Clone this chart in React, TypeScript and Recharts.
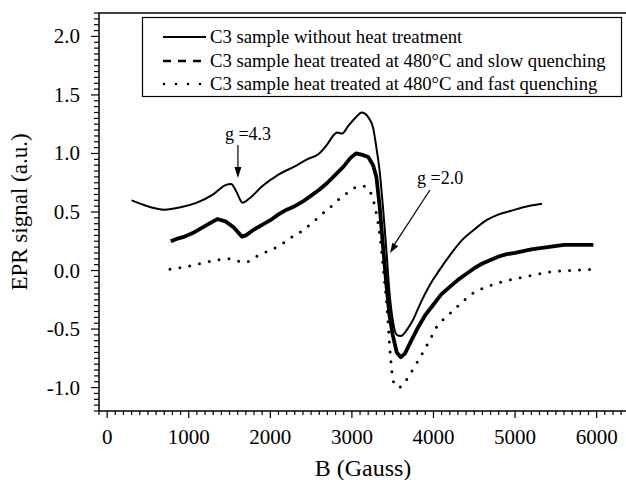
import React from "react";
import { LineChart, Line, XAxis, YAxis, ReferenceLine, ReferenceDot } from "recharts";

const txt = { fontFamily: "Liberation Serif" };

// C3 sample without heat treatment
const untreatedField = [300, 450, 600, 700, 900, 1100, 1300, 1450, 1520, 1580, 1660, 1750, 1900, 2100, 2300, 2450, 2600, 2700, 2780, 2820, 2880, 2960, 3050, 3120, 3200, 3260, 3300, 3340, 3380, 3420, 3460, 3500, 3550, 3600, 3680, 3750, 3840, 3950, 4050, 4200, 4350, 4500, 4650, 4800, 4950, 5100, 5330];
const untreatedSignal = [0.6, 0.56, 0.53, 0.52, 0.54, 0.58, 0.65, 0.73, 0.74, 0.68, 0.58, 0.62, 0.72, 0.82, 0.89, 0.95, 1.0, 1.08, 1.16, 1.18, 1.17, 1.24, 1.31, 1.35, 1.31, 1.22, 1.05, 0.85, 0.55, 0.2, -0.18, -0.42, -0.55, -0.56, -0.5, -0.42, -0.28, -0.13, -0.02, 0.13, 0.26, 0.35, 0.43, 0.48, 0.51, 0.54, 0.57];

// heat treated at 480°C, slow quenching
const slowField = [780, 850, 950, 1050, 1150, 1250, 1350, 1450, 1550, 1650, 1700, 1800, 1900, 2000, 2100, 2200, 2300, 2400, 2500, 2600, 2700, 2800, 2900, 2980, 3050, 3120, 3200, 3260, 3300, 3340, 3380, 3420, 3460, 3500, 3550, 3600, 3650, 3720, 3800, 3900, 4000, 4100, 4200, 4300, 4400, 4500, 4600, 4700, 4800, 4900, 5000, 5200, 5400, 5600, 5800, 5960];
const slowSignal = [0.25, 0.27, 0.29, 0.32, 0.36, 0.4, 0.44, 0.42, 0.37, 0.29, 0.3, 0.35, 0.39, 0.43, 0.48, 0.52, 0.55, 0.59, 0.64, 0.69, 0.75, 0.82, 0.89, 0.96, 1.0, 0.99, 0.97, 0.9, 0.8, 0.55, 0.22, -0.1, -0.38, -0.55, -0.7, -0.74, -0.71, -0.61, -0.5, -0.38, -0.29, -0.2, -0.14, -0.08, -0.03, 0.02, 0.06, 0.09, 0.12, 0.14, 0.15, 0.18, 0.2, 0.22, 0.22, 0.22];

// heat treated at 480°C, fast quenching
const fastField = [770, 950, 1150, 1350, 1500, 1600, 1700, 1800, 1920, 2050, 2150, 2250, 2370, 2500, 2613, 2750, 2860, 2980, 3080, 3150, 3225, 3290, 3350, 3390, 3430, 3470, 3510, 3570, 3620, 3690, 3760, 3838, 3950, 4040, 4150, 4245, 4350, 4490, 4650, 4820, 5000, 5220, 5450, 5680, 5950];
const fastSignal = [0.01, 0.03, 0.06, 0.09, 0.1, 0.08, 0.07, 0.11, 0.15, 0.19, 0.23, 0.28, 0.33, 0.4, 0.47, 0.55, 0.62, 0.68, 0.72, 0.72, 0.67, 0.52, 0.26, -0.02, -0.31, -0.71, -0.95, -1.0, -0.98, -0.91, -0.83, -0.74, -0.6, -0.48, -0.4, -0.34, -0.27, -0.19, -0.14, -0.1, -0.07, -0.04, -0.01, 0.0, 0.01];

const legendLabels = [
  "C3 sample without heat treatment",
  "C3 sample heat treated at 480°C and slow quenching",
  "C3 sample heat treated at 480°C and fast quenching",
];

const xMinorStep = 100;
const xTicks: number[] = [];
for (let b = -100; b <= 6300; b += xMinorStep) xTicks.push(b);
const yTicks: number[] = [];
for (let i = -24; i <= 44; i++) yTicks.push(Math.round(i * 5) / 100);

const toRows = (field: number[], signal: number[]) => field.map((b, i) => ({ b, v: signal[i] }));
const untreatedData = toRows(untreatedField, untreatedSignal);
const slowData = toRows(slowField, slowSignal);
const fastData = toRows(fastField, fastSignal);

function XTick({ x, y, payload }: any) {
  const v = payload.value;
  const major = v % 1000 === 0;
  return (
    <g>
      <line x1={x} x2={x} y1={y} y2={y + (major ? 7 : 4)} stroke="#000" strokeWidth={1.2} />
      {major && v >= 0 && (
        <text x={x} y={y + 33} textAnchor="middle" fontSize={21} style={txt} fill="#000">
          {v}
        </text>
      )}
    </g>
  );
}

function YTick({ x, y, payload }: any) {
  const v = payload.value;
  const major = Math.abs(v * 2 - Math.round(v * 2)) < 1e-6;
  return (
    <g>
      <line x1={x - (major ? 8 : 5)} x2={x} y1={y} y2={y} stroke="#000" strokeWidth={1.2} />
      {major && (
        <text x={x - 19} y={y + 7} textAnchor="end" fontSize={21} style={txt} fill="#000">
          {v.toFixed(1)}
        </text>
      )}
    </g>
  );
}

const annotation = (label: string) => (p: any) => (
  <text x={p.cx} y={p.cy} fontSize={18} style={txt} fill="#000">
    {label}
  </text>
);

export default function App() {
  return (
    <div style={{ position: "absolute", left: 0, top: 0, width: 626, height: 480, background: "#fff" }}>
      <LineChart width={626} height={480} margin={{ top: 13, right: 0, bottom: 0, left: 0 }}>
        <XAxis
          type="number"
          dataKey="b"
          domain={[-100, 6360]}
          ticks={xTicks}
          interval={0}
          height={69}
          tickSize={0}
          tickMargin={0}
          tickLine={false}
          axisLine={{ stroke: "#000", strokeWidth: 1.5 }}
          tick={(p: any) => <XTick {...p} />}
          allowDataOverflow
        />
        <YAxis
          type="number"
          domain={[-1.2, 2.2]}
          ticks={yTicks}
          interval={0}
          width={99}
          tickSize={0}
          tickMargin={0}
          tickLine={false}
          axisLine={{ stroke: "#000", strokeWidth: 1.5 }}
          tick={(p: any) => <YTick {...p} />}
          allowDataOverflow
        />
        <ReferenceLine y={2.2} stroke="#000" strokeWidth={1.5} />
        <Line data={untreatedData} dataKey="v" stroke="#000" strokeWidth={2} dot={false} isAnimationActive={false} type="monotone" />
        <Line data={slowData} dataKey="v" stroke="#000" strokeWidth={3.8} strokeLinejoin="round" dot={false} isAnimationActive={false} type="linear" />
        <Line
          data={fastData}
          dataKey="v"
          stroke="#000"
          strokeWidth={3}
          strokeDasharray="0 10"
          strokeLinecap="round"
          dot={false}
          isAnimationActive={false}
          type="monotone"
        />
        <ReferenceLine segment={[{ x: 1603, y: 1.072 }, { x: 1603, y: 0.82 }]} stroke="#000" strokeWidth={1.2} />
        <ReferenceDot
          x={1603}
          y={0.79}
          r={0}
          shape={(p: any) => <polygon points={`${p.cx},${p.cy} ${p.cx - 3.5},${p.cy - 11} ${p.cx + 3.5},${p.cy - 11}`} fill="#000" />}
        />
        <ReferenceDot x={1444} y={1.115} r={0} shape={annotation("g =4.3")} />
        <ReferenceLine segment={[{ x: 3957, y: 0.688 }, { x: 3500, y: 0.2 }]} stroke="#000" strokeWidth={1.2} />
        <ReferenceDot
          x={3467}
          y={0.15}
          r={0}
          shape={(p: any) => (
            <polygon
              points={`${p.cx},${p.cy} ${p.cx + 8.3},${p.cy - 6.6} ${p.cx + 2.4},${p.cy - 10.3}`}
              fill="#000"
            />
          )}
        />
        <ReferenceDot x={3799} y={0.739} r={0} shape={annotation("g =2.0")} />
      </LineChart>
      <svg width={626} height={480} style={{ position: "absolute", left: 0, top: 0, pointerEvents: "none" }}>
        <rect x={142.5} y={17.5} width={479} height={79} fill="#fff" stroke="#000" strokeWidth={1.2} />
        <line x1={163} x2={206} y1={37} y2={37} stroke="#000" strokeWidth={2} />
        <line x1={163} x2={206} y1={61} y2={61} stroke="#000" strokeWidth={2.5} strokeDasharray="8 7" />
        <line x1={164} x2={206} y1={84} y2={84} stroke="#000" strokeWidth={2.5} strokeDasharray="0 12" strokeLinecap="round" />
        {legendLabels.map((t, i) => (
          <text key={t} x={210} y={43 + i * 23.5} fontSize={18.7} style={txt} fill="#000">
            {t}
          </text>
        ))}
        <text x={363} y={476} textAnchor="middle" fontSize={24} style={txt} fill="#000">
          B (Gauss)
        </text>
        <text transform="translate(27,212) rotate(-90)" textAnchor="middle" fontSize={23} style={txt} fill="#000">
          EPR signal (a.u.)
        </text>
      </svg>
    </div>
  );
}
